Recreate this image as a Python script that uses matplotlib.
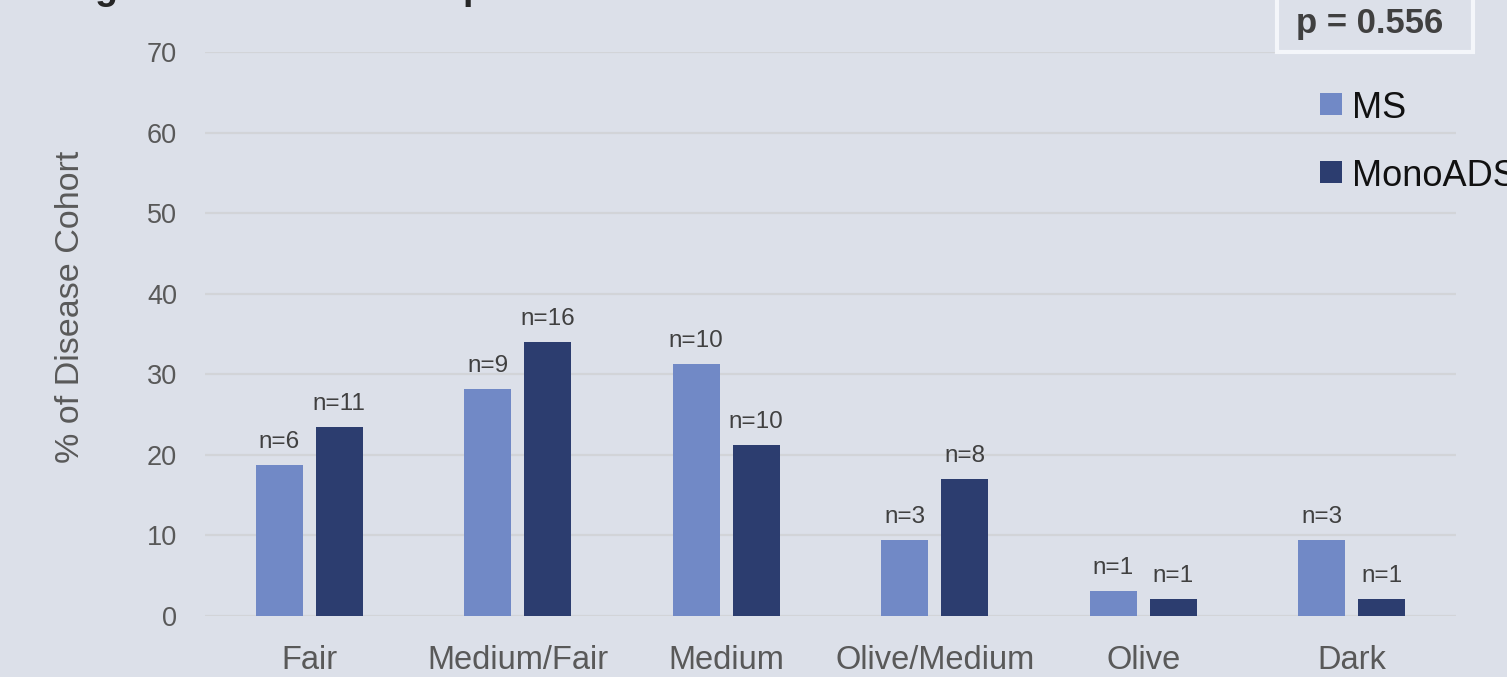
import numpy as np
import matplotlib
matplotlib.use("Agg")
import matplotlib.pyplot as plt
from matplotlib.patches import Rectangle

# Skin tone distribution per cohort
categories = ["Fair", "Medium/Fair", "Medium", "Olive/Medium", "Olive", "Dark"]
ms_counts = [6, 9, 10, 3, 1, 3]
mono_counts = [11, 16, 10, 8, 1, 1]
ms_pct = [100 * c / sum(ms_counts) for c in ms_counts]
mono_pct = [100 * c / sum(mono_counts) for c in mono_counts]
series_names = ["MS", "MonoADS"]
y_ticks = [0, 10, 20, 30, 40, 50, 60, 70]
p_text = "p = 0.556"

BG = "#DCE0E9"
MS_COLOR = "#7189C6"
MONO_COLOR = "#2C3D6F"
TEXT = "#595959"

plt.rcParams["font.family"] = ["Liberation Sans", "DejaVu Sans"]

W, H = 1507, 677
fig = plt.figure(figsize=(W / 100, H / 100), dpi=100, facecolor=BG)
ax = fig.add_axes([205 / W, 1 - 616 / H, (1456 - 205) / W, (616 - 52) / H])
ax.set_facecolor(BG)

x = np.arange(len(categories))
bw = 0.226
off = 0.144
b1 = ax.bar(x - off, ms_pct, bw, color=MS_COLOR, label=series_names[0], zorder=3)
b2 = ax.bar(x + off, mono_pct, bw, color=MONO_COLOR, label=series_names[1], zorder=3)

for bars, counts in ((b1, ms_counts), (b2, mono_counts)):
    for bar, n in zip(bars, counts):
        ax.annotate(f"n={n}", (bar.get_x() + bar.get_width() / 2, bar.get_height()),
                    xytext=(0, 17), textcoords="offset pixels", ha="center",
                    va="baseline", fontsize=17.5, color="#404040", zorder=4)

ax.set_xlim(-0.5, len(categories) - 0.5)
ax.set_ylim(0, 70)
ax.set_yticks(y_ticks)
ax.set_xticks(x)
ax.set_xticklabels(categories, fontsize=23.5, color=TEXT)
ax.tick_params(axis="y", length=0, pad=20, labelsize=19.5, labelcolor=TEXT)
ax.tick_params(axis="x", length=0, pad=21)
ax.grid(axis="y", color="#D2D4D8", linewidth=1.6, zorder=0)
for s in ax.spines.values():
    s.set_visible(False)

fig.text(71 / W, 1 - 307 / H, "% of Disease Cohort", rotation=90, ha="center",
         va="center", fontsize=24.5, color=TEXT)

# Title sits above the canvas edge
fig.text(41 / W, 1 + 1 / H, "Original Skin Tone Comparison", ha="left",
         va="baseline", fontsize=27, fontweight="bold", color="#262626")

# p-value box
fig.patches.append(Rectangle((1277 / W, 1 - 52 / H), (1473 - 1277) / W, 60 / H,
                             transform=fig.transFigure, facecolor=BG,
                             edgecolor="#F4F6FA", linewidth=3, zorder=5))
fig.text(1370 / W, 1 - 33 / H, p_text, ha="center", va="baseline", fontsize=25,
         fontweight="bold", color="#404040", zorder=6)

# Legend
for i, (name, col) in enumerate(zip(series_names, [MS_COLOR, MONO_COLOR])):
    yc = 104 + 68 * i
    fig.patches.append(Rectangle((1320 / W, 1 - (yc + 11) / H), 22 / W, 22 / H,
                                 transform=fig.transFigure, facecolor=col,
                                 edgecolor="none", zorder=5))
    fig.text(1352 / W, 1 - yc / H, name, ha="left", va="center_baseline",
             fontsize=26, color="#111111", zorder=6)

fig.savefig("out.png", dpi=100, facecolor=BG)
